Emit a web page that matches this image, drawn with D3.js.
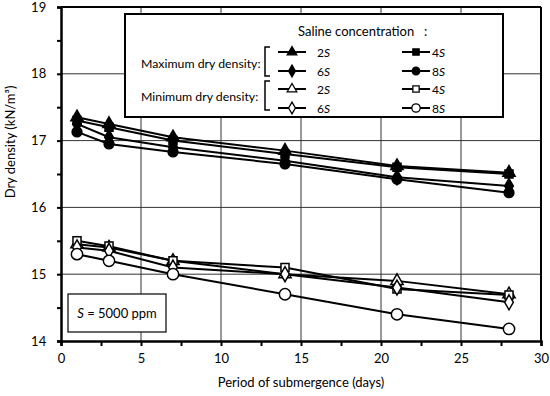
<!DOCTYPE html>
<html><head><meta charset="utf-8">
<script src="https://cdn.jsdelivr.net/npm/d3@7"></script>
<style>body{margin:0;background:#fff}svg{display:block;font-family:Lato,"Open Sans",sans-serif}</style>
</head><body><svg id="c" width="550" height="396"></svg>
<script>
const days = [1, 3, 7, 14, 21, 28];
const max2S = [17.35, 17.25, 17.05, 16.85, 16.62, 16.52];
const max4S = [17.3, 17.2, 17.0, 16.8, 16.6, 16.5];
const max6S = [17.25, 17.05, 16.9, 16.7, 16.45, 16.32];
const max8S = [17.13, 16.95, 16.83, 16.65, 16.42, 16.22];
const min2S = [15.45, 15.4, 15.2, 15.0, 14.9, 14.7];
const min4S = [15.5, 15.42, 15.2, 15.1, 14.78, 14.69];
const min6S = [15.4, 15.35, 15.1, 15.0, 14.8, 14.58];
const min8S = [15.3, 15.2, 15.0, 14.7, 14.4, 14.18];
const xTicks = [0, 5, 10, 15, 20, 25, 30];
const yTicks = [14, 15, 16, 17, 18, 19];

const series = [
  {name:"2S", v:max2S, sym:d3.symbolTriangle, fill:"#000"},
  {name:"4S", v:max4S, sym:d3.symbolSquare, fill:"#000"},
  {name:"6S", v:max6S, sym:d3.symbolDiamond, fill:"#000"},
  {name:"8S", v:max8S, sym:d3.symbolCircle, fill:"#000"},
  {name:"2S", v:min2S, sym:d3.symbolTriangle, fill:"#fff"},
  {name:"4S", v:min4S, sym:d3.symbolSquare, fill:"#fff"},
  {name:"6S", v:min6S, sym:d3.symbolDiamond, fill:"#fff"},
  {name:"8S", v:min8S, sym:d3.symbolCircle, fill:"#fff"}
];

const svg = d3.select("#c");
const x = d3.scaleLinear().domain([0,30]).range([61,541]);
const y = d3.scaleLinear().domain([14,19]).range([341,7]);

// gridlines
const g = svg.append("g");
g.selectAll("line.v").data(xTicks.slice(1,-1)).join("line")
  .attr("x1",d=>x(d)).attr("x2",d=>x(d)).attr("y1",y(19)).attr("y2",y(14))
  .attr("stroke","#333").attr("stroke-width",1);
g.selectAll("line.h").data(yTicks.slice(1,-1)).join("line")
  .attr("y1",d=>y(d)).attr("y2",d=>y(d)).attr("x1",x(0)).attr("x2",x(30))
  .attr("stroke","#333").attr("stroke-width",1);

// frame top/right
svg.append("line").attr("x1",x(0)).attr("x2",x(30)).attr("y1",y(19)).attr("y2",y(19)).attr("stroke","#000").attr("stroke-width",2);
svg.append("line").attr("x1",x(30)).attr("x2",x(30)).attr("y1",y(19)).attr("y2",y(14)).attr("stroke","#000").attr("stroke-width",2);

// axes
const xAxis = svg.append("g").attr("transform",`translate(0,${y(14)})`)
  .call(d3.axisBottom(x).tickValues(d3.range(0,30.1,2.5)).tickSize(5).tickFormat(d=>xTicks.includes(d)?d:""));
const yAxis = svg.append("g").attr("transform",`translate(${x(0)},0)`)
  .call(d3.axisLeft(y).tickValues(d3.range(14,19.01,0.5)).tickSize(4).tickFormat(d=>yTicks.includes(d)?d:""));
[xAxis,yAxis].forEach(a=>{
  a.select(".domain").attr("stroke","#000").attr("stroke-width",2.5);
  a.selectAll(".tick line").attr("stroke","#000").attr("stroke-width",2);
  a.selectAll("text").attr("font-size",13).attr("fill","#000").attr("font-family","Lato,sans-serif");
});
xAxis.selectAll("text").attr("dy","1.1em");
yAxis.selectAll("text").attr("dx","-0.6em");

// lines + markers
const line = d3.line().x((d,i)=>x(days[i])).y(d=>y(d));
const plot = svg.append("g");
series.forEach(s=>{
  plot.append("path").attr("d",line(s.v)).attr("fill","none").attr("stroke","#000").attr("stroke-width",2);
});
series.forEach(s=>{
  const size = s.sym===d3.symbolCircle ? (s.fill==="#fff"?100:75) : 65;
  plot.selectAll(null).data(s.v).join("path")
    .attr("transform",(d,i)=>`translate(${x(days[i])},${y(d)})`)
    .attr("d",d3.symbol(s.sym,size)).attr("fill",s.fill).attr("stroke","#000").attr("stroke-width",1.5);
});

// legend
const lg = svg.append("g");
lg.append("rect").attr("x",125).attr("y",14).attr("width",378).attr("height",103)
  .attr("fill","#fff").attr("stroke","#000").attr("stroke-width",2);
lg.append("text").attr("x",298).attr("y",36).attr("font-size",13).text("Saline concentration");
lg.append("text").attr("x",424).attr("y",36).attr("font-size",13).text(":");
lg.append("text").attr("x",141).attr("y",68).attr("font-size",12.3).text("Maximum dry density:");
lg.append("text").attr("x",141).attr("y",101).attr("font-size",12.3).text("Minimum dry density:");
[[47,76],[81,110]].forEach(([a,b])=>{
  lg.append("path").attr("d",`M270,${a}H265V${b}H270`).attr("fill","none").attr("stroke","#000").attr("stroke-width",1.5);
});
const rowsY = [52,71,89,108];
const order = [[0,1],[2,3],[4,5],[6,7]];
order.forEach((pair,r)=>{
  pair.forEach((si,c)=>{
    const s = series[si];
    const x0 = c===0 ? 278 : 402, x1 = x0+28, cx = x0+14, cy = rowsY[r];
    lg.append("line").attr("x1",x0).attr("x2",x1).attr("y1",cy).attr("y2",cy).attr("stroke","#000").attr("stroke-width",2);
    const size = s.sym===d3.symbolCircle ? (s.fill==="#fff"?55:45) : 40;
    lg.append("path").attr("transform",`translate(${cx},${cy})`).attr("d",d3.symbol(s.sym,size))
      .attr("fill",s.fill).attr("stroke","#000").attr("stroke-width",1.3);
    const t = lg.append("text").attr("x",c===0?317:432).attr("y",cy+4.5).attr("font-size",12);
    t.append("tspan").text(s.name[0]);
    t.append("tspan").attr("font-style","italic").text(s.name.slice(1));
  });
});

// S box
svg.append("rect").attr("x",68).attr("y",294).attr("width",98).attr("height",38)
  .attr("fill","#fff").attr("stroke","#000").attr("stroke-width",1.2);
const st = svg.append("text").attr("x",117).attr("y",318).attr("text-anchor","middle").attr("font-size",13);
st.append("tspan").attr("font-style","italic").text("S");
st.append("tspan").text(" = 5000 ppm");

// axis titles
svg.append("text").attr("x",301).attr("y",387).attr("text-anchor","middle").attr("font-size",13).text("Period of submergence (days)");
svg.append("text").attr("transform","translate(15,142) rotate(-90)").attr("text-anchor","middle").attr("font-size",13)
  .text("Dry density (kN/m³)");
</script></body></html>
